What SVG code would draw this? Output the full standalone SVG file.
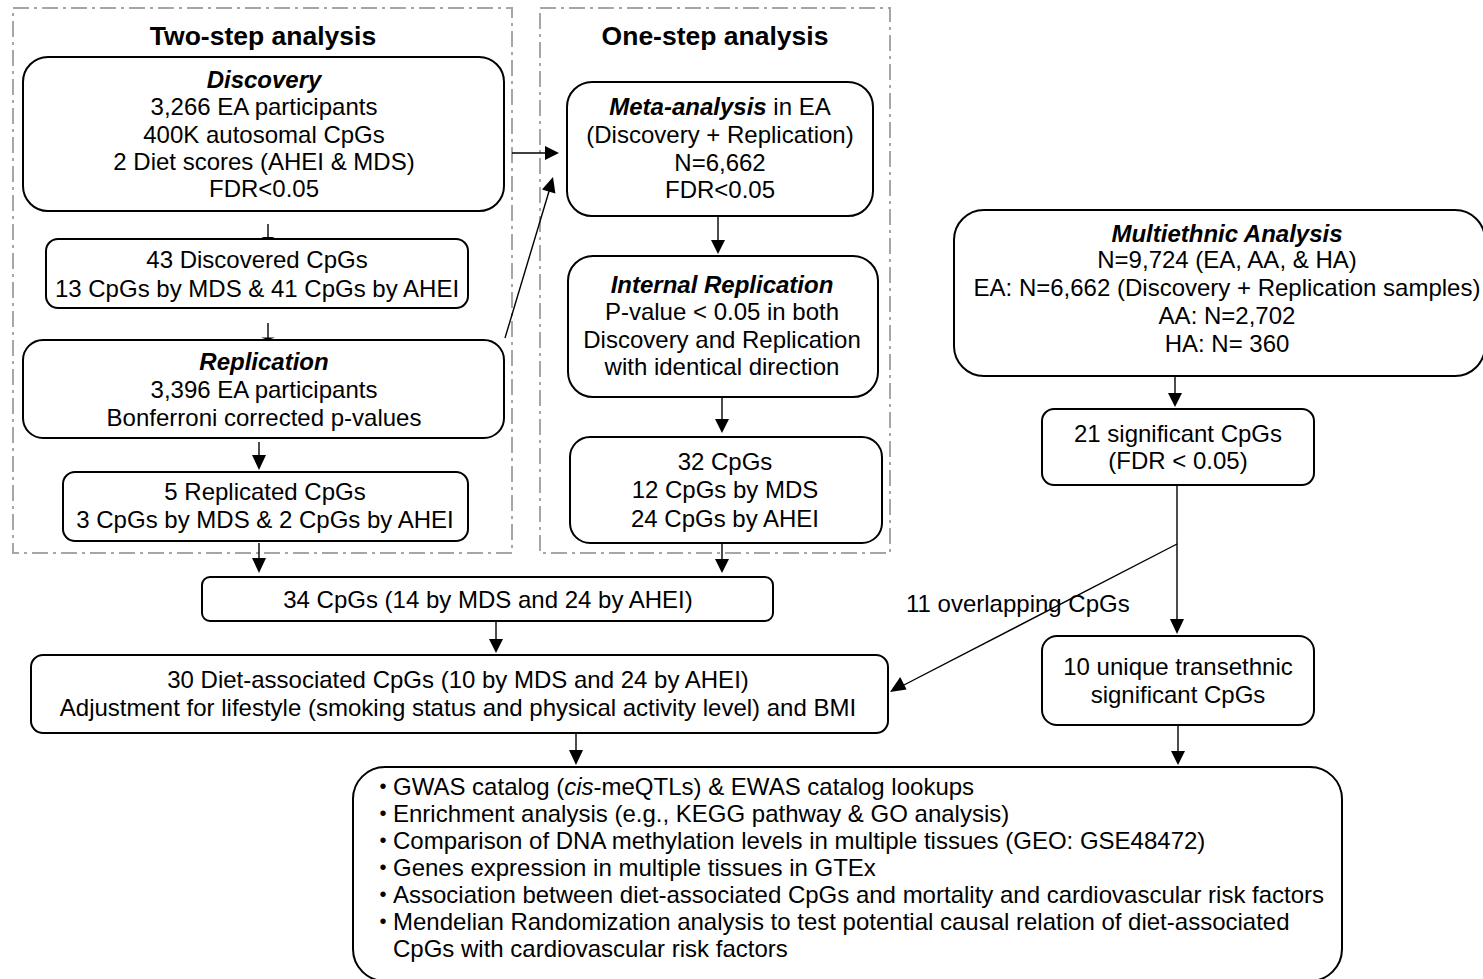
<svg xmlns="http://www.w3.org/2000/svg" width="1483" height="979" viewBox="0 0 1483 979">
<style>
.bg{fill:#fff}
.box{fill:#fff;stroke:#000;stroke-width:2}
.cont{fill:none;stroke:#a6a6a6;stroke-width:2;stroke-dasharray:16 5 3 5}
.t{font-family:"Liberation Sans",Arial,sans-serif;font-size:24px;fill:#000;text-anchor:middle}
.l{text-anchor:start}
.b{font-size:20px}
.bi{font-weight:bold;font-style:italic}
.it{font-style:italic}
.title{font-family:"Liberation Sans",Arial,sans-serif;font-size:26.5px;font-weight:bold;fill:#000;text-anchor:middle}
.c line{stroke:#000;stroke-width:1.4}
.c polygon{fill:#000}
</style>
<rect class="bg" x="0" y="0" width="1483" height="979"/>
<g id="containers">
<rect id="two-step" class="cont" x="13" y="8" width="499" height="545"/>
<rect id="one-step" class="cont" x="540" y="8" width="350" height="545"/>
<text class="title" x="263" y="45">Two-step analysis</text>
<text class="title" x="715" y="45">One-step analysis</text>
</g>
<g id="discovery">
<rect class="box" x="23" y="57" width="481" height="154" rx="25"/>
<text class="t" x="264" y="88"><tspan class="bi">Discovery</tspan></text>
<text class="t" x="264" y="115">3,266 EA participants</text>
<text class="t" x="264" y="143">400K autosomal CpGs</text>
<text class="t" x="264" y="170">2 Diet scores (AHEI &amp; MDS)</text>
<text class="t" x="264" y="197">FDR&lt;0.05</text>
</g>
<g id="discovered">
<rect class="box" x="46" y="239" width="422" height="69" rx="12"/>
<text class="t" x="257" y="268">43 Discovered CpGs</text>
<text class="t" x="257" y="297">13 CpGs by MDS &amp; 41 CpGs by AHEI</text>
</g>
<g id="replication">
<rect class="box" x="23" y="340" width="481" height="98" rx="20"/>
<text class="t" x="264" y="370"><tspan class="bi">Replication</tspan></text>
<text class="t" x="264" y="398">3,396 EA participants</text>
<text class="t" x="264" y="426">Bonferroni corrected p-values</text>
</g>
<g id="replicated">
<rect class="box" x="63" y="472" width="405" height="69" rx="12"/>
<text class="t" x="265" y="500">5 Replicated CpGs</text>
<text class="t" x="265" y="528">3 CpGs by MDS &amp; 2 CpGs by AHEI</text>
</g>
<g id="meta">
<rect class="box" x="567" y="82" width="306" height="134" rx="25"/>
<text class="t" x="720" y="115"><tspan class="bi">Meta-analysis</tspan> in EA</text>
<text class="t" x="720" y="143">(Discovery + Replication)</text>
<text class="t" x="720" y="171">N=6,662</text>
<text class="t" x="720" y="198">FDR&lt;0.05</text>
</g>
<g id="internal">
<rect class="box" x="568" y="256" width="310" height="141" rx="25"/>
<text class="t" x="722" y="293"><tspan class="bi">Internal Replication</tspan></text>
<text class="t" x="722" y="320">P-value &lt; 0.05 in both</text>
<text class="t" x="722" y="348">Discovery and Replication</text>
<text class="t" x="722" y="375">with identical direction</text>
</g>
<g id="cpg32">
<rect class="box" x="570" y="437" width="312" height="106" rx="20"/>
<text class="t" x="725" y="470">32 CpGs</text>
<text class="t" x="725" y="498">12 CpGs by MDS</text>
<text class="t" x="725" y="527">24 CpGs by AHEI</text>
</g>
<g id="cpg34">
<rect class="box" x="202" y="577" width="571" height="44" rx="8"/>
<text class="t" x="488" y="608">34 CpGs (14 by MDS and 24 by AHEI)</text>
</g>
<g id="diet30">
<rect class="box" x="31" y="655" width="857" height="78" rx="12"/>
<text class="t" x="458" y="688">30 Diet-associated CpGs (10 by MDS and 24 by AHEI)</text>
<text class="t" x="458" y="716">Adjustment for lifestyle (smoking status and physical activity level) and BMI</text>
</g>
<g id="multiethnic">
<rect class="box" x="954" y="210" width="531" height="166" rx="30"/>
<text class="t" x="1227" y="242"><tspan class="bi">Multiethnic Analysis</tspan></text>
<text class="t" x="1227" y="268">N=9,724 (EA, AA, &amp; HA)</text>
<text class="t" x="1227" y="296">EA: N=6,662 (Discovery + Replication samples)</text>
<text class="t" x="1227" y="324">AA: N=2,702</text>
<text class="t" x="1227" y="352">HA: N= 360</text>
</g>
<g id="sig21">
<rect class="box" x="1042" y="409" width="272" height="76" rx="12"/>
<text class="t" x="1178" y="442">21 significant CpGs</text>
<text class="t" x="1178" y="469">(FDR &lt; 0.05)</text>
</g>
<g id="unique10">
<rect class="box" x="1042" y="636" width="272" height="89" rx="15"/>
<text class="t" x="1178" y="675">10 unique transethnic</text>
<text class="t" x="1178" y="703">significant CpGs</text>
</g>
<g id="followup">
<rect class="box" x="353" y="767" width="989" height="214" rx="32"/>
<text class="t b" x="383" y="793">•</text><text class="t l" x="393" y="795">GWAS catalog (<tspan class="it">cis</tspan>-meQTLs) &amp; EWAS catalog lookups</text>
<text class="t b" x="383" y="820">•</text><text class="t l" x="393" y="822">Enrichment analysis (e.g., KEGG pathway &amp; GO analysis)</text>
<text class="t b" x="383" y="847">•</text><text class="t l" x="393" y="849">Comparison of DNA methylation levels in multiple tissues (GEO: GSE48472)</text>
<text class="t b" x="383" y="874">•</text><text class="t l" x="393" y="876">Genes expression in multiple tissues in GTEx</text>
<text class="t b" x="383" y="901">•</text><text class="t l" x="393" y="903">Association between diet-associated CpGs and mortality and cardiovascular risk factors</text>
<text class="t b" x="383" y="928">•</text><text class="t l" x="393" y="930">Mendelian Randomization analysis to test potential causal relation of diet-associated</text>
<text class="t l" x="393" y="957">CpGs with cardiovascular risk factors</text>
</g>
<g id="connectors" class="c">
<line x1="268" y1="224" x2="268" y2="238"/><polygon points="261,237 275,237 268,239.5"/>
<line x1="268" y1="323" x2="268" y2="338"/><polygon points="261,337.5 275,337.5 268,340"/>
<line x1="259" y1="442" x2="259" y2="456"/><polygon points="252,455 266,455 259,470"/>
<line x1="259" y1="543" x2="259" y2="559"/><polygon points="252,558 266,558 259,573"/>
<line x1="512" y1="153" x2="546" y2="153"/><polygon points="545,146 545,160 559,153"/>
<line x1="505" y1="338" x2="550" y2="188"/><polygon points="553,177 555.4,193.4 542,189.4"/>
<line x1="718" y1="216" x2="718" y2="241"/><polygon points="711,240 725,240 718,254"/>
<line x1="722" y1="397" x2="722" y2="420"/><polygon points="715,419 729,419 722,433"/>
<line x1="722" y1="543" x2="722" y2="560"/><polygon points="715,559 729,559 722,573"/>
<line x1="496" y1="621" x2="496" y2="640"/><polygon points="489,639 503,639 496,653"/>
<line x1="576" y1="733" x2="576" y2="751"/><polygon points="569,750 583,750 576,765"/>
<line x1="1175" y1="376" x2="1175" y2="394"/><polygon points="1168,393 1182,393 1175,407"/>
<line x1="1177" y1="485" x2="1177" y2="620"/><polygon points="1170,619 1184,619 1177,634"/>
<line x1="1177" y1="544" x2="902" y2="686"/><polygon points="890,692 906.6,689.4 900.2,677"/>
<line x1="1178" y1="725" x2="1178" y2="752"/><polygon points="1171,751 1185,751 1178,765"/>
<text class="t l" x="906" y="612">11 overlapping CpGs</text>
</g>
</svg>
